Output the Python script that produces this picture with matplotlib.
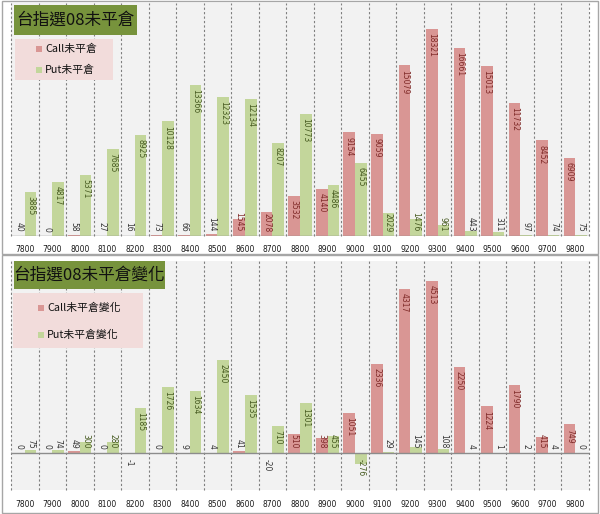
"""
Open interest chart for TAIEX options (Aug contract):
open interest per strike on top, change in open interest below.
"""

import matplotlib
matplotlib.use("Agg")
import matplotlib.pyplot as plt
from matplotlib.patches import Rectangle

strikes = [7800, 7900, 8000, 8100, 8200, 8300, 8400, 8500, 8600, 8700, 8800,
           8900, 9000, 9100, 9200, 9300, 9400, 9500, 9600, 9700, 9800]

call_oi = [40, 0, 58, 27, 16, 73, 66, 144, 1545, 2078, 3532,
           4140, 9154, 9059, 15079, 18321, 16661, 15013, 11732, 8452, 6909]
put_oi = [3885, 4817, 5371, 7685, 8925, 10128, 13366, 12323, 12134, 8207, 10773,
          4486, 6455, 2029, 1476, 961, 443, 311, 97, 74, 75]

call_chg = [0, 0, 49, 0, -1, 0, 9, 4, 41, -20, 510,
            398, 1051, 2336, 4317, 4513, 2250, 1224, 1790, 415, 749]
put_chg = [75, 74, 300, 280, 1185, 1726, 1634, 2450, 1535, 710, 1301,
           455, -276, 29, 145, 108, 4, 1, 2, 4, 0]

W, H = 600, 514
CJK = ['Noto Sans CJK TC', 'DejaVu Sans']
NUM = 'DejaVu Sans'

CALL_COLOR = '#d99694'
PUT_COLOR = '#c3d69b'
CALL_TEXT = '#7f2a28'
PUT_TEXT = '#465a20'
GRAY_TEXT = '#333333'


def px_rect(x0, y0, x1, y1):
    return [x0 / W, 1 - y1 / H, (x1 - x0) / W, (y1 - y0) / H]


def fx(x):
    return x / W


def fy(y):
    return 1 - y / H


def label_bars(ax, xs, values, px_per_unit, fill_color):
    for x, v in zip(xs, values):
        text = str(v)
        bar_px = abs(v) * px_per_unit
        text_px = len(text) * 4.9
        color = fill_color if bar_px >= 8 else GRAY_TEXT
        if v < 0:
            ax.annotate(text, (x, 0), xytext=(0, -4), textcoords='offset points',
                        rotation=-90, ha='center', va='top', fontsize=5.5,
                        family=NUM, color=color)
        elif bar_px >= text_px + 8:
            ax.annotate(text, (x, v), xytext=(0, -3), textcoords='offset points',
                        rotation=-90, ha='center', va='top', fontsize=5.5,
                        family=NUM, color=color)
        else:
            ax.annotate(text, (x, 0), xytext=(0, 3), textcoords='offset points',
                        rotation=-90, ha='center', va='bottom', fontsize=5.5,
                        family=NUM, color=color)


def draw_panel(ax, calls, puts, ylim, height_px, tick_pad):
    xs = list(range(len(strikes)))
    w = 0.42
    cx = [x - 0.21 for x in xs]
    px = [x + 0.21 for x in xs]
    ax.set_facecolor('#f2f2f2')
    for b in range(len(strikes) + 1):
        ax.axvline(b - 0.5, color='#7f7f7f', lw=0.8, ls=(0, (2, 2)), clip_on=False, zorder=1)
    ax.bar(cx, calls, width=w, color=CALL_COLOR, zorder=2)
    ax.bar(px, puts, width=w, color=PUT_COLOR, zorder=2)
    ax.axhline(0, color='#8c8c8c', lw=1, zorder=3)
    ax.set_xlim(-0.5, len(strikes) - 0.5)
    ax.set_ylim(*ylim)
    ppu = height_px / (ylim[1] - ylim[0])
    label_bars(ax, cx, calls, ppu, CALL_TEXT)
    label_bars(ax, px, puts, ppu, PUT_TEXT)
    ax.set_xticks(xs)
    ax.set_xticklabels([str(s) for s in strikes], fontsize=5.5, family=NUM, color='#1a1a1a')
    ax.tick_params(axis='x', length=0, pad=tick_pad)
    ax.set_yticks([])
    for sp in ax.spines.values():
        sp.set_visible(False)


def title_box(fig, x0, y0, x1, y1, text):
    fig.patches.append(Rectangle((fx(x0), fy(y1)), fx(x1 - x0), (y1 - y0) / H,
                                 transform=fig.transFigure, facecolor='#77933c',
                                 edgecolor='none', zorder=4))
    fig.text(fx((x0 + x1) / 2), fy((y0 + y1) / 2), text, ha='center', va='center',
             fontsize=12, family=CJK, weight='medium', color='#111111', zorder=5)


def legend_box(fig, x0, y0, x1, y1, mx, items):
    fig.patches.append(Rectangle((fx(x0), fy(y1)), fx(x1 - x0), (y1 - y0) / H,
                                 transform=fig.transFigure, facecolor='#f2dcdb',
                                 edgecolor='none', zorder=4))
    for y, label, color in items:
        fig.patches.append(Rectangle((fx(mx - 3), fy(y + 3)), fx(6), 6 / H,
                                     transform=fig.transFigure, facecolor=color,
                                     edgecolor='none', zorder=5))
        fig.text(fx(mx + 6), fy(y), label, ha='left', va='center',
                 fontsize=7.8, family=CJK, color='#111111', zorder=5)


fig = plt.figure(figsize=(W / 100, H / 100), dpi=100)
fig.patch.set_facecolor('white')

ax_top = fig.add_axes(px_rect(11, 3, 589, 236))
draw_panel(ax_top, call_oi, put_oi, (0, 20600), 233, 6.5)

ax_bot = fig.add_axes(px_rect(11, 261, 589, 490))
draw_panel(ax_bot, call_chg, put_chg, (-971, 5040), 229, 7.2)

# panel frames
for y0, y1 in [(1, 254), (255, 513)]:
    fig.patches.append(Rectangle((fx(1.5), fy(y1)), fx(596), (y1 - y0) / H,
                                 transform=fig.transFigure, facecolor='none',
                                 edgecolor='#a6a6a6', lw=1, zorder=6))

title_box(fig, 14, 5, 137, 35, '台指選08未平倉')
legend_box(fig, 15, 39, 113, 80, 39,
           [(49, 'Call未平倉', CALL_COLOR), (70, 'Put未平倉', PUT_COLOR)])

title_box(fig, 14, 261, 165, 289, '台指選08未平倉變化')
legend_box(fig, 13, 293, 143, 348, 41,
           [(308, 'Call未平倉變化', CALL_COLOR), (335, 'Put未平倉變化', PUT_COLOR)])

fig.savefig('out.png', dpi=100)
